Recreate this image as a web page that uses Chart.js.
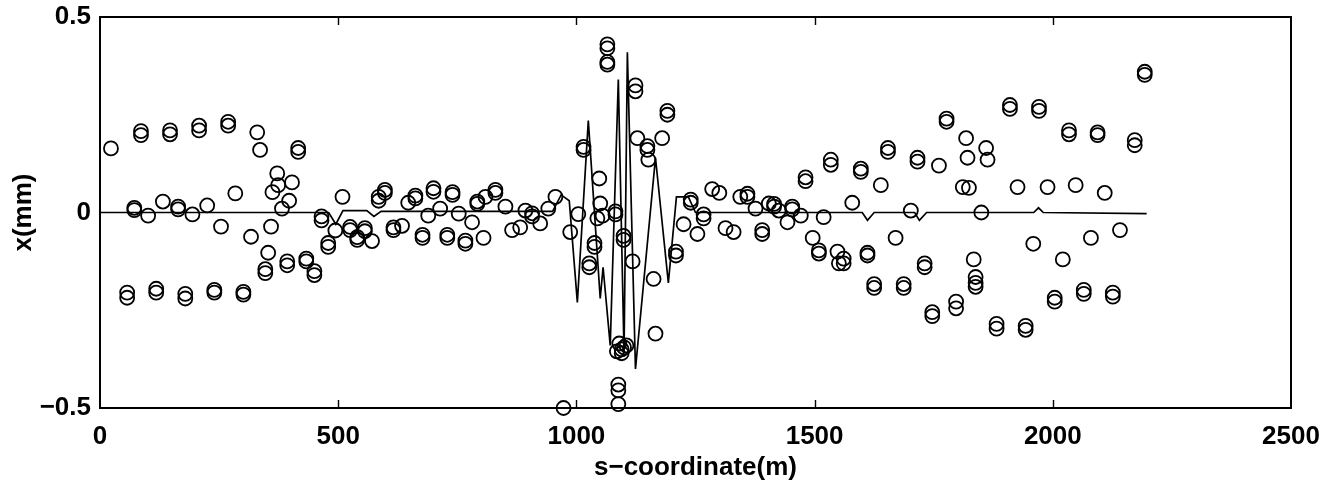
<!DOCTYPE html>
<html>
<head>
<meta charset="utf-8">
<script src="https://cdn.jsdelivr.net/npm/chart.js@4.4.1/dist/chart.umd.min.js"></script>
<style>
html,body{margin:0;padding:0;background:#fff;}
#wrap{width:1333px;height:484px;}
</style>
</head>
<body>
<div id="wrap"><canvas id="c" width="1333" height="484"></canvas></div>
<script>
// measured orbit (BPM s-position, x in mm)
const bpmS = [
 23,86,86,147,147,208,208,269,269,330,336,416,416,
 72,72,101,132,164,164,194,225,254,284,317,353,347,347,359,372,362,374,403,382,397,393,393,
 57,57,118,118,179,179,240,240,301,301,
 433,433,450,450,465,465,479,479,494,509,525,525,540,540,556,556,571,585,585,598,598,
 616,616,634,647,662,662,677,677,689,700,700,714,729,729,740,740,753,767,767,781,792,792,805,
 809,830,830,851,865,882,893,907,907,924,941,956,973,987,1004,1015,1015,1027,1027,1038,1038,
 1044,1048,1050,1055,1065,1065,1065,1065,1082,1082,1099,1099,1118,1124,1124,1128,1149,1149,
 1151,1162,1166,1180,1191,1191,1209,1209,1090,1095,1100,1105,1095,1085,1088,1088,1088,
 1240,1240,1225,1254,1267,1267,1285,1300,1313,1330,1344,1359,1359,1376,1390,1390,1404,1415,1415,
 1425,1443,1453,1453,1471,1481,1481,1496,1509,1509,1519,1534,1534,1548,1561,1561,1551,1579,
 1597,1597,1611,1611,1625,1625,1639,1654,1654,1670,1687,1687,1702,1716,1716,1731,1731,1747,1747,
 1761,1777,1777,1797,1797,1811,1824,1818,1821,1834,1838,1838,1838,1850,1860,1863,1882,1882,
 1910,1910,1926,1943,1943,1959,1971,1971,1989,2004,2004,2021,2034,2034,2048,2065,2065,2080,
 2094,2094,2109,2126,2126,2141,2172,2172,2193,2193
];
const bpmX = [
 0.164,0.208,0.198,0.21,0.2,0.222,0.21,0.232,0.222,0.205,0.16,0.165,0.155,
 0.012,0.006,-0.008,0.028,0.015,0.008,-0.005,0.018,-0.036,0.049,-0.062,-0.103,-0.145,-0.155,-0.036,0.1,0.052,0.07,0.077,0.01,0.03,-0.125,-0.135,
 -0.205,-0.218,-0.195,-0.205,-0.208,-0.22,-0.198,-0.205,-0.203,-0.21,
 -0.118,-0.125,-0.15,-0.16,-0.01,-0.02,-0.078,-0.088,-0.046,0.04,-0.037,-0.045,-0.063,-0.07,-0.04,-0.048,-0.073,0.04,0.03,0.058,0.05,
 -0.038,-0.045,-0.034,0.025,0.043,0.036,-0.057,-0.065,-0.008,0.062,0.053,0.01,-0.057,-0.065,0.052,0.045,-0.003,-0.072,-0.08,-0.025,0.028,0.022,-0.065,
 0.04,0.058,0.05,0.015,-0.045,-0.038,0.005,-0.002,-0.01,-0.028,0.01,0.04,-0.5,-0.05,-0.004,0.168,0.16,-0.13,-0.14,-0.078,-0.088,
 -0.015,0.087,0.023,-0.008,0.43,0.42,0.385,0.378,0.003,-0.005,-0.06,-0.07,-0.125,0.325,0.31,0.19,0.17,0.16,
 0.135,-0.17,-0.31,0.19,0.26,0.25,-0.1,-0.11,-0.335,-0.35,-0.345,-0.34,-0.36,-0.355,-0.44,-0.455,-0.49,
 0.033,0.025,-0.03,-0.055,-0.005,-0.015,0.06,0.05,-0.04,-0.05,0.04,0.048,0.04,0.01,-0.045,-0.055,0.023,0.022,0.015,
 0.005,-0.025,0.015,0.008,-0.008,0.09,0.08,-0.065,-0.097,-0.105,-0.012,0.135,0.122,-0.1,-0.118,-0.13,-0.13,0.025,
 0.112,0.104,-0.103,-0.11,-0.183,-0.193,0.07,0.165,0.155,-0.065,-0.183,-0.193,0.005,0.14,0.13,-0.13,-0.14,-0.255,-0.265,
 0.12,0.24,0.232,-0.228,-0.245,0.065,0.063,0.19,0.14,-0.12,-0.165,-0.18,-0.19,0.0,0.165,0.135,-0.285,-0.297,
 0.275,0.265,0.065,-0.29,-0.3,-0.08,0.27,0.26,0.065,-0.218,-0.228,-0.12,0.21,0.2,0.07,-0.198,-0.208,-0.065,
 0.205,0.198,0.05,-0.205,-0.215,-0.045,0.185,0.172,0.36,0.352
];
// model orbit line
const modelS = [0,480,495,510,560,575,590,950,968,985,1002,1025,1050,1056,1071,1088,1100,1107,1124,1166,1193,1210,1235,1250,1600,1611,1625,1710,1720,1735,1960,1970,1980,2197];
const modelX = [0,0,-0.03,0.005,0.005,-0.01,0.003,0.003,0.045,0.03,-0.23,0.235,-0.22,-0.14,-0.34,0.34,-0.36,0.41,-0.40,0.14,-0.18,0.04,0.04,0.0,0,-0.02,0,0,-0.02,0,0,0.012,0,-0.003];
// axis ticks
const xTicks = [0,500,1000,1500,2000,2500];
const yTicks = [-0.5,0,0.5];
const xTitle = 's\u2212coordinate(m)';
const yTitle = 'x(mm)';

const pts = bpmS.map((s,i)=>({x:s,y:bpmX[i]}));
const line = modelS.map((s,i)=>({x:s,y:modelX[i]}));

const framePlugin = {
  id:'frame',
  afterDraw(chart){
    const {ctx, chartArea:a, scales} = chart;
    ctx.save();
    ctx.strokeStyle='#000';
    ctx.lineWidth=2;
    ctx.strokeRect(a.left, a.top, a.right-a.left, a.bottom-a.top);
    ctx.lineWidth=1.4;
    ctx.beginPath();
    xTicks.forEach(v=>{
      if(v===xTicks[0]||v===xTicks[xTicks.length-1]) return;
      const px = Math.round(scales.x.getPixelForValue(v))+0.5;
      ctx.moveTo(px,a.top); ctx.lineTo(px,a.top+8);
      ctx.moveTo(px,a.bottom); ctx.lineTo(px,a.bottom-8);
    });
    ctx.stroke();
    ctx.restore();
  }
};

Chart.defaults.font.family = '"Liberation Sans", Arial, sans-serif';
Chart.defaults.color = '#000';

new Chart(document.getElementById('c'), {
  type:'scatter',
  data:{datasets:[
    {data:pts, showLine:false, pointStyle:'circle', pointRadius:7, pointHoverRadius:7,
     pointBorderWidth:1.8, pointBorderColor:'#000', pointBackgroundColor:'rgba(0,0,0,0)', clip:false},
    {data:line, showLine:true, pointRadius:0, borderColor:'#000', borderWidth:1.7, tension:0, fill:false}
  ]},
  options:{
    responsive:false, animation:false, devicePixelRatio:1,
    layout:{padding:{top:17,right:42,left:0,bottom:0}},
    plugins:{legend:{display:false}, tooltip:{enabled:false}, title:{display:false}},
    scales:{
      x:{type:'linear', min:0, max:2500,
        afterBuildTicks(s){ s.ticks = xTicks.map(v=>({value:v})); },
        afterFit(s){ s.height = 76; s.paddingLeft = 0; s.paddingRight = 0; },
        grid:{display:false, drawTicks:false}, border:{display:false},
        ticks:{font:{size:26,weight:'bold'}, padding:13, maxRotation:0, autoSkip:false,
          callback:(v)=>String(v)},
        title:{display:true, text:xTitle, font:{size:26,weight:'bold'}, padding:{top:0,bottom:1}}
      },
      y:{type:'linear', min:-0.5, max:0.5,
        afterBuildTicks(s){ s.ticks = yTicks.map(v=>({value:v})); },
        afterFit(s){ s.width = 100; s.paddingTop = 0; s.paddingBottom = 0; },
        grid:{display:false, drawTicks:false}, border:{display:false},
        ticks:{font:{size:26,weight:'bold'}, padding:9,
          callback:(v)=> (v<0?'\u2212':'') + String(Math.abs(v))},
        title:{display:true, text:yTitle, font:{size:26,weight:'bold'}, padding:{top:8,bottom:0}}
      }
    }
  },
  plugins:[framePlugin]
});
</script>
</body>
</html>
